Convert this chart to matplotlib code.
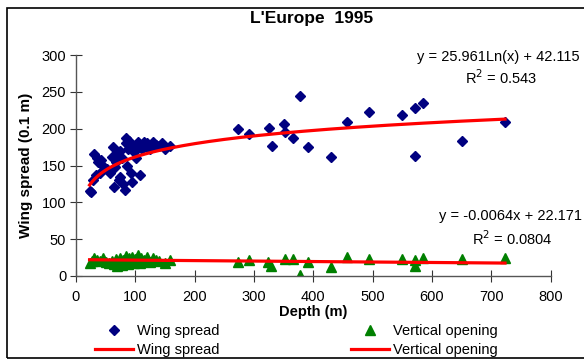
import numpy as np
import matplotlib
matplotlib.use('Agg')
import matplotlib.pyplot as plt
from matplotlib.patches import Rectangle

plt.rcParams.update({
    'font.family': 'Liberation Sans',
    'font.size': 10.5,
})

# ── données : ouverture des ailes et ouverture verticale vs profondeur ──
depth_ws = [23, 26, 29, 31, 33, 35, 38, 40, 42, 46, 52, 57, 60, 62, 65, 66,
            68, 70, 72, 74, 75, 78, 80, 82, 84, 85, 86, 88, 90, 92, 94, 95,
            98, 100, 102, 105, 108, 110, 112, 115, 118, 120, 125, 130, 135,
            140, 145, 150, 158,
            273, 291, 325, 331, 351, 352, 366, 377, 391, 430, 457, 493, 549,
            572, 585, 572, 650, 723]
wing_spread = [115, 114, 130, 166, 137, 160, 155, 140, 158, 150, 145, 140,
               162, 175, 121, 148, 155, 165, 130, 135, 170, 160, 125, 117,
               180, 187, 150, 172, 183, 140, 178, 128, 168, 176, 160, 182,
               137, 178, 172, 182, 176, 180, 172, 182, 178, 176, 180, 172, 176,
               200, 193, 201, 176, 206, 196, 188, 244, 175, 162, 209, 222,
               218, 228, 235, 163, 183, 209]

depth_vo = [23, 27, 31, 35, 40, 45, 50, 55, 60, 65, 68, 70, 73, 75, 78, 80,
            83, 85, 88, 90, 93, 95, 98, 100, 103, 105, 108, 110, 113, 115,
            120, 125, 130, 135, 140, 150, 158,
            273, 291, 324, 329, 352, 366, 377, 391, 430, 457, 493, 549, 572,
            572, 585, 650, 723]
vert_opening = [18, 20, 24, 22, 20, 25, 19, 17, 21, 16, 23, 14, 18, 25, 15,
                22, 19, 27, 16, 24, 20, 26, 18, 23, 21, 28, 17, 25, 20, 22,
                26, 19, 25, 22, 21, 18, 22,
                19.5, 21.7, 18.6, 14, 23, 23, 1, 19.5, 12.7, 26, 22.6, 22.6,
                21.7, 14, 24, 23, 25]

# courbes de tendance (Excel)
LOG_A, LOG_B = 25.961, 42.115
LOG_R2 = 0.543
LIN_A, LIN_B = -0.0064, 22.171
LIN_R2 = 0.0804

fig = plt.figure(figsize=(5.84, 3.61), dpi=100)
ax = fig.add_axes([0.130, 0.2355, 0.813, 0.612])

ax.plot(depth_ws, wing_spread, ls='none', marker='D', ms=5.5,
        color='#000080', label='Wing spread')
x_min = min(depth_ws + depth_vo)
x_max = max(depth_ws + depth_vo)
xx = np.linspace(x_min, x_max, 300)
ax.plot(xx, LOG_A * np.log(xx) + LOG_B, color='#ff0000', lw=2.3,
        label='Wing spread')
ax.plot(depth_vo, vert_opening, ls='none', marker='^', ms=7,
        color='#008000', label='Vertical opening')
ax.plot(xx, LIN_A * xx + LIN_B, color='#ff0000', lw=2.3,
        label='Vertical opening')

ax.set_xlim(0, 800)
ax.set_ylim(0, 300)
ax.set_xticks(np.arange(0, 801, 100))
ax.set_yticks(np.arange(0, 301, 50))
ax.tick_params(direction='inout', length=8, width=0.8, color='#333333',
               labelsize=10.5, pad=3)
ax.tick_params(axis='x', pad=6)
for s in ('top', 'right'):
    ax.spines[s].set_visible(False)
for s in ('left', 'bottom'):
    ax.spines[s].set_color('#555555')
    ax.spines[s].set_linewidth(1.0)

ax.set_xlabel('Depth (m)', fontweight='bold', labelpad=1)
ax.set_ylabel('Wing spread (0.1 m)', fontweight='bold', fontsize=11,
              labelpad=6)
fig.text(312 / 584, 1 - 18 / 361, "L'Europe  1995", fontweight='bold',
         fontsize=12.5, ha='center', va='center')

# équations des courbes de tendance
ax.text(574, 297, f'y = {LOG_A}Ln(x) + {LOG_B}', ha='left', va='center',
        clip_on=False)
ax.text(717, 269, f'R$^2$ = {LOG_R2}', ha='center', va='center',
        clip_on=False)
ax.text(612, 82, f'y = {LIN_A}x + {LIN_B}', ha='left', va='center',
        clip_on=False)
ax.text(736, 51, f'R$^2$ = {LIN_R2}', ha='center', va='center',
        clip_on=False)

h, l = ax.get_legend_handles_labels()
fig.legend(h, l, ncol=2,
           loc='upper left', bbox_to_anchor=(95 / 584, 1 - 324 / 361),
           frameon=False, handlelength=2.6, handletextpad=0.3,
           columnspacing=9.0, labelspacing=0.36, borderpad=0,
           borderaxespad=0, fontsize=10.5)

# cadre du graphique
fig.patches.append(Rectangle((7 / 584, 3 / 361), 1.0, 1 - 11 / 361,
                             transform=fig.transFigure, fill=False,
                             edgecolor='black', lw=1.2, clip_on=False))

fig.savefig('out.png', dpi=100, facecolor='white')
